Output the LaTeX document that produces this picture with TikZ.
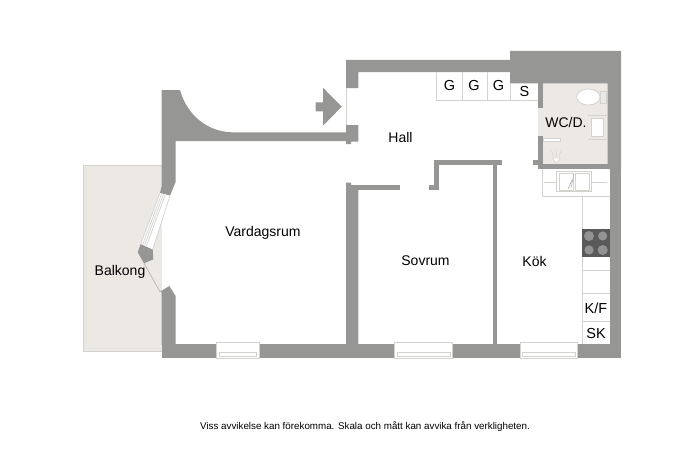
\documentclass[tikz,border=0pt]{standalone}
\usepackage{fontspec}
\setmainfont{Liberation Sans}
\definecolor{wallc}{HTML}{969695}
\definecolor{floorc}{HTML}{ECE9E5}
\definecolor{linec}{HTML}{D2D2CF}
\definecolor{hobc}{HTML}{5A5A5A}
\begin{document}
\begin{tikzpicture}[x=1pt,y=-1pt,
  wall/.style={fill=wallc,draw=none},
  fixture/.style={draw=linec,line width=0.7pt},
  winframe/.style={draw=linec,line width=0.8pt,fill=white},
  room/.style={font=\fontsize{14}{16}\selectfont,text=black,inner sep=0pt},
  unitlabel/.style={font=\fontsize{14.5}{16}\selectfont,text=black,inner sep=0pt},
  note/.style={font=\fontsize{9.8}{11}\selectfont,text=black,inner sep=0pt}]
\useasboundingbox (0,0) rectangle (690,460);
\fill[white] (0,0) rectangle (690,460);
% balcony
\fill[floorc] (84,165.5) rectangle (162,350.5);
\draw[linec,line width=0.9pt] (162,165) -- (83.5,165) -- (83.5,351) -- (162,351);
\draw[white!40!linec,line width=0.6pt] (85.5,167) -- (85.5,348.5) -- (162,348.5);
% bathroom floor
\fill[floorc] (543,83.3) rectangle (608,164.5);
\fill[floorc] (538,108) rectangle (544,136);
% walls
\fill[wall] (161.7,90) -- (180,90) .. controls (187,115) and (207,131.7) .. (232,132.3) -- (346,132.3) -- (346,141) -- (175.7,141) -- (175.7,181.7) -- (170,195.7) -- (160,193) -- (161.7,186) -- cycle;
\fill[wall] (346,125) -- (358.3,125) -- (358.3,141.7) -- (351,141.7) -- (351,144) -- (346,144) -- cycle;
\fill[wall] (346,88) -- (346,60) -- (510,60) -- (510,51) -- (621,51) -- (621,169) -- (607.7,169) -- (607.7,83.3) -- (510,83.3) -- (510,72) -- (358.3,72) -- (358.3,88) -- cycle;
\fill[wall] (610,165) rectangle (621,358.2);
\fill[wall] (161.7,344.3) rectangle (621,358.2);
\fill[wall] (160,291.7) -- (169.3,286) -- (175.7,296) -- (175.7,345) -- (161.7,345) -- (161.7,292) -- cycle;
\fill[wall] (140.7,244) -- (152.7,249.3) -- (153.3,259.3) -- (144,263.3) -- (137.7,252.3) -- cycle;
\fill[wall] (346,182.7) -- (351,182.7) -- (351,190) -- (358.3,190) -- (358.3,345) -- (346,345) -- cycle;
\fill[wall] (351,185) rectangle (400,190);
\fill[wall] (429.3,185) rectangle (438.7,190);
\fill[wall] (434.3,160) rectangle (438.7,190);
\fill[wall] (434.3,160) rectangle (501.7,164.5);
\fill[wall] (492.5,160) rectangle (496.8,345);
\fill[wall] (533.3,160) rectangle (543.3,164.5);
\fill[wall] (538.3,83.3) rectangle (543.3,108);
\fill[wall] (538.3,136) rectangle (543.3,169);
\fill[wall] (538.3,164.3) rectangle (610,169);
% entrance arrow
\fill[wall] (341.7,106.7) -- (323,87.7) -- (323,102.3) -- (315.7,102.3) -- (315.7,111.3) -- (323,111.3) -- (323,125.7) -- cycle;
\draw[linec,line width=0.6pt] (346,88) -- (346,125);
% balcony door and glazing
\fill[white] (160,193) -- (170,195.7) -- (152.7,249.3) -- (140.7,244) -- cycle;
\draw[linec,line width=0.7pt] (170,195.7) -- (152.7,249.3) (160,193) -- (140.7,244) (161.8,193.6) -- (142.6,244.8) (163.6,194.1) -- (144.4,245.6) (165.4,194.6) -- (146.2,246.4);
\draw[gray!70,line width=0.5pt] (144,263.3) -- (160,291.7);
% bottom windows
\draw[winframe] (216.7,342.5) rectangle (259,358.2);
\draw[fixture] (219,352) rectangle (256.7,356);
\draw[winframe] (394,342) rectangle (452.7,358.2);
\draw[fixture] (397.3,352) rectangle (450.7,356);
\draw[winframe] (520,342.5) rectangle (577.3,358.2);
\draw[fixture] (522,352) rectangle (575.5,356);
% wardrobes
\draw[fixture] (436.7,72) -- (436.7,100) -- (538,100);
\draw[fixture] (462,72) -- (462,100) (487.3,72) -- (487.3,100) (510,83.3) -- (510,100);
% kitchen units
\draw[fixture] (542.7,169) -- (542.7,196.7) -- (610,196.7);
\draw[fixture] (582.3,196.7) -- (582.3,344.3);
\draw[fixture] (582.3,270.7) -- (610,270.7) (582.3,293.3) -- (610,293.3) (582.3,321) -- (610,321);
\fill[hobc] (582.3,229) rectangle (610,256.7);
\fill[gray!85] (589,236) circle (5) (602.7,236) circle (4.6) (589,250) circle (4.6) (602.7,250) circle (5);
% kitchen sink
\draw[line width=1.3pt,draw=linec] (556.7,171.7) rectangle (591.7,191.7);
\draw[line width=0.7pt,draw=linec] (559,173.5) rectangle (573.5,190) (575,173.5) rectangle (589.5,190);
\draw[gray!60,line width=0.6pt] (572,180) -- (568,189) (574,174) -- (571,188);
\draw[fixture,line width=0.5pt] (544,182) -- (556,182) (592,182) -- (607,182);
% toilet, basin, drain and door leaf
\draw[fill=white,draw=linec,line width=0.8pt] (588.3,97) ellipse (11.7 and 8);
\draw[fill=floorc,draw=linec,line width=0.8pt] (600,91.7) rectangle (606,103.3);
\draw[fill=white,draw=linec,line width=0.8pt] (591,118.3) rectangle (603.3,136.7);
\draw[linec,line width=0.5pt] (588,115.5) -- (607.5,115.5) (588,139) -- (607.5,139);
\draw[fill=white,draw=linec,line width=0.6pt] (543.3,138) rectangle (560,141.7);
\draw[fill=white,draw=linec,line width=0.5pt] (552.3,158) -- (560.3,158) -- (556.3,163.3) -- cycle;
\draw[linec,line width=0.4pt] (556.3,157) -- (556.3,151) (554,157) -- (551.5,151) (558.6,157) -- (561,151);
% labels
\node[room] (vardagsrum) at (263,233) {Vardagsrum};
\node[room] (hall) at (400.5,137) {Hall};
\node[room] (sovrum) at (425.5,261) {Sovrum};
\node[room] (kok) at (534.5,261) {Kök};
\node[room] (balkong) at (120,272) {Balkong};
\node[room] (wcd) at (566,122.5) {WC/D.};
\node[unitlabel] (g1) at (449.5,86) {G};
\node[unitlabel] (g2) at (474,86) {G};
\node[unitlabel] (g3) at (498.5,86) {G};
\node[unitlabel] (s1) at (524.5,91.5) {S};
\node[unitlabel] (kf) at (596,308) {K/F};
\node[unitlabel] (sk) at (596,334) {SK};
\node[note] (caption) at (365,427) {Viss avvikelse kan förekomma. Skala och mått kan avvika från verkligheten.};
\end{tikzpicture}
\end{document}
